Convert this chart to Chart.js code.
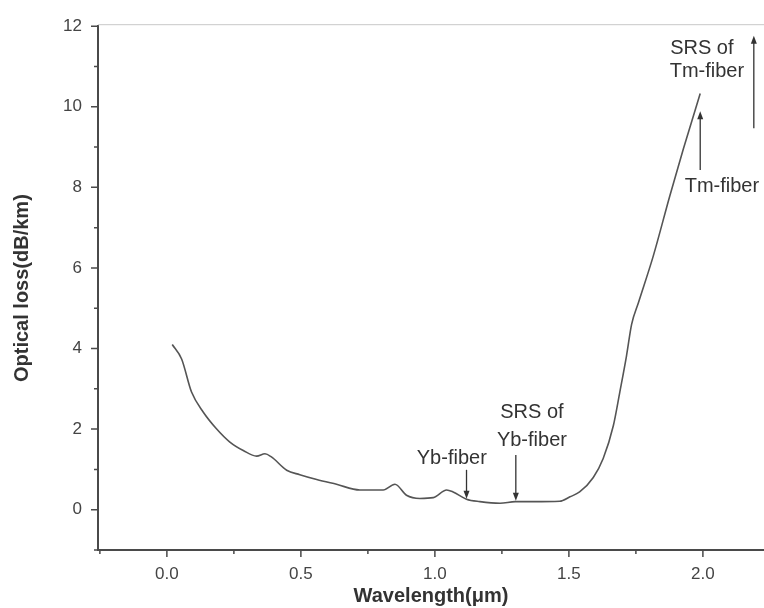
<!DOCTYPE html>
<html>
<head>
<meta charset="utf-8">
<script src="https://cdn.jsdelivr.net/npm/chart.js@4.4.1/dist/chart.umd.min.js"></script>
<style>
  html, body { margin: 0; padding: 0; background: #fff; }
  #wrap { width: 764px; height: 608px; }
</style>
</head>
<body>
<div id="wrap"><canvas id="chart"></canvas></div>
<script>
// ===== DATA =====
const wavelength = [0.02, 0.055, 0.092, 0.136, 0.185, 0.235, 0.285, 0.335, 0.366, 0.39,
  0.447, 0.496, 0.559, 0.633, 0.72, 0.807, 0.851, 0.894, 0.944, 0.994,
  1.044, 1.068, 1.118, 1.168, 1.243, 1.30, 1.367, 1.466, 1.504, 1.54,
  1.591, 1.628, 1.666, 1.69, 1.715, 1.734, 1.76, 1.815, 1.877, 1.927, 1.99];
const loss = [4.10, 3.74, 2.92, 2.42, 2.01, 1.68, 1.47, 1.33, 1.39, 1.31,
  0.98, 0.87, 0.75, 0.63, 0.49, 0.49, 0.63, 0.36, 0.28, 0.30,
  0.49, 0.44, 0.26, 0.20, 0.16, 0.20, 0.20, 0.21, 0.32, 0.44,
  0.80, 1.27, 2.09, 2.92, 3.82, 4.6, 5.15, 6.3, 7.8, 8.95, 10.33];

const xTicks = [-0.25, 0, 0.25, 0.5, 0.75, 1.0, 1.25, 1.5, 1.75, 2.0];
const yTicks = [-1, 0, 1, 2, 3, 4, 5, 6, 7, 8, 9, 10, 11, 12];

// annotation texts and arrows, in data units
const noteText = ['Yb-fiber', 'SRS of', 'Yb-fiber', 'Tm-fiber', 'SRS of', 'Tm-fiber'];
const noteX = [1.063, 1.362, 1.362, 2.071, 1.996, 2.015];
const noteY = [1.26, 2.42, 1.73, 8.03, 11.44, 10.87];
const arrowX = [1.118, 1.302, 1.99, 2.19];
const arrowFrom = [0.99, 1.36, 8.43, 9.47];
const arrowTo = [0.27, 0.22, 9.89, 11.76];

const FONT = "'Liberation Sans', Arial, sans-serif";

// tick marks (major/minor), top frame line and the notes
const decorations = {
  id: 'decorations',
  afterDraw(chart) {
    const { ctx, chartArea: a, scales: { x, y } } = chart;
    ctx.save();
    ctx.strokeStyle = '#4a4a4a';
    ctx.lineWidth = 1.5;
    ctx.beginPath();
    xTicks.forEach(v => {
      const px = x.getPixelForValue(v);
      const len = Number.isInteger(v * 2) ? 7 : 4;
      ctx.moveTo(px, a.bottom);
      ctx.lineTo(px, a.bottom + len);
    });
    yTicks.forEach(v => {
      const py = y.getPixelForValue(v);
      const len = v % 2 === 0 ? 7 : 4;
      ctx.moveTo(a.left, py);
      ctx.lineTo(a.left - len, py);
    });
    ctx.stroke();

    // top frame line
    ctx.strokeStyle = '#c8c8c8';
    ctx.lineWidth = 1;
    ctx.beginPath();
    ctx.moveTo(a.left, a.top - 1.5);
    ctx.lineTo(a.right, a.top - 1.5);
    ctx.stroke();

    // notes
    ctx.fillStyle = '#333';
    ctx.font = '20px ' + FONT;
    ctx.textAlign = 'center';
    ctx.textBaseline = 'middle';
    noteText.forEach((t, i) => {
      ctx.fillText(t, x.getPixelForValue(noteX[i]), y.getPixelForValue(noteY[i]));
    });

    // arrows
    ctx.strokeStyle = '#333';
    ctx.lineWidth = 1.3;
    arrowX.forEach((v, i) => {
      const px = x.getPixelForValue(v);
      const y0 = y.getPixelForValue(arrowFrom[i]);
      const y1 = y.getPixelForValue(arrowTo[i]);
      const dir = y1 > y0 ? 1 : -1;
      ctx.beginPath();
      ctx.moveTo(px, y0);
      ctx.lineTo(px, y1 - dir * 6);
      ctx.stroke();
      ctx.beginPath();
      ctx.moveTo(px, y1);
      ctx.lineTo(px - 3, y1 - dir * 8);
      ctx.lineTo(px + 3, y1 - dir * 8);
      ctx.closePath();
      ctx.fill();
    });
    ctx.restore();
  }
};

new Chart(document.getElementById('chart'), {
  type: 'line',
  data: {
    datasets: [{
      data: wavelength.map((w, i) => ({ x: w, y: loss[i] })),
      borderColor: '#555',
      borderWidth: 1.6,
      pointRadius: 0,
      fill: false,
      cubicInterpolationMode: 'monotone'
    }]
  },
  options: {
    responsive: true,
    maintainAspectRatio: false,
    animation: false,
    layout: { padding: { top: 24, right: 0, bottom: 0, left: 10 } },
    plugins: { legend: { display: false }, tooltip: { enabled: false } },
    scales: {
      x: {
        type: 'linear',
        min: -0.257,
        max: 2.228,
        afterBuildTicks: s => { s.ticks = xTicks.map(v => ({ value: v })); },
        afterFit: s => { s.height = 58; },
        grid: { display: false, drawTicks: false },
        border: { display: true, color: '#4a4a4a', width: 2 },
        ticks: {
          padding: 14,
          color: '#444',
          font: { family: FONT, size: 17 },
          maxRotation: 0,
          autoSkip: false,
          callback: v => Number.isInteger(v * 2) ? v.toFixed(1) : ''
        },
        title: {
          display: true,
          text: 'Wavelength(\u03bcm)',
          color: '#333',
          font: { family: FONT, size: 20, weight: 'bold' },
          padding: 0
        }
      },
      y: {
        min: -1,
        max: 12,
        afterBuildTicks: s => { s.ticks = yTicks.map(v => ({ value: v })); },
        afterFit: s => { s.width = 88; },
        grid: { display: false, drawTicks: false },
        border: { display: true, color: '#4a4a4a', width: 2 },
        ticks: {
          padding: 16,
          color: '#444',
          font: { family: FONT, size: 17 },
          autoSkip: false,
          callback: v => v % 2 === 0 ? String(v) : ''
        },
        title: {
          display: true,
          text: 'Optical loss(dB/km)',
          color: '#333',
          font: { family: FONT, size: 20, weight: 'bold' },
          padding: 0
        }
      }
    }
  },
  plugins: [decorations]
});
</script>
</body>
</html>
